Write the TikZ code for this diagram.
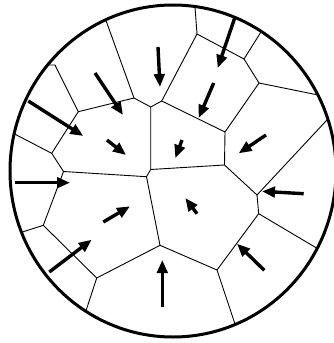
\documentclass[tikz,border=0pt]{standalone}
\usetikzlibrary{arrows.meta}
\tikzset{
  rim/.style={line width=3pt},
  cell/.style={line width=0.9pt},
  flow/.style={line width=3.4pt,-{Triangle[length=13pt,width=10.5pt]}}
}
\begin{document}
\begin{tikzpicture}[x=1pt,y=-1pt]
\useasboundingbox (0,0) rectangle (334,343);
% vertices
\coordinate (A) at (134,98);
\coordinate (B) at (150.7,107);
\coordinate (Q) at (161.7,101);
\coordinate (P) at (197,34);
\coordinate (C) at (244,59);
\coordinate (D) at (259,83);
\coordinate (E) at (225,132);
\coordinate (F) at (224.5,165);
\coordinate (R) at (150.7,169.5);
\coordinate (S) at (146.5,176.7);
\coordinate (M) at (78.3,111.7);
\coordinate (N) at (55,65);
\coordinate (O) at (51.7,153.3);
\coordinate (H) at (63.5,171.5);
\coordinate (T) at (43.3,225.3);
\coordinate (I) at (96.7,278);
\coordinate (G) at (160,245.3);
\coordinate (J) at (217,270);
\coordinate (K) at (258.7,213.7);
\coordinate (L) at (257,195);
% outer ends (beyond the rim, clipped)
\coordinate (c1) at (104,15);
\coordinate (c2) at (40,65);
\coordinate (c3) at (5,129);
\coordinate (c4) at (10,236);
\coordinate (c5) at (83,320);
\coordinate (c6) at (239,336);
\coordinate (c7) at (330,256);
\coordinate (c8) at (340,106);
\coordinate (c9) at (335,98.4);
\coordinate (c10) at (266,24);
\coordinate (c11) at (194.5,0);
\begin{scope}
\clip (173,171) ellipse [x radius=163, y radius=166];
\draw[cell] (c1) -- (A) -- (B) -- (Q) -- (P) -- (c11);
\draw[cell] (P) -- (C) -- (c10);
\draw[cell] (C) -- (D) -- (c9);
\draw[cell] (D) -- (E) -- (Q);
\draw[cell] (E) -- (F) -- (R) -- (B);
\draw[cell] (R) -- (S) -- (H);
\draw[cell] (S) -- (G);
\draw[cell] (F) -- (L) -- (c8);
\draw[cell] (L) -- (K) -- (c7);
\draw[cell] (K) -- (J) -- (c6);
\draw[cell] (J) -- (G) -- (I) -- (c5);
\draw[cell] (I) -- (T) -- (c4);
\draw[cell] (T) -- (H) -- (O) -- (c3);
\draw[cell] (O) -- (M) -- (N) -- (c2);
\draw[cell] (M) -- (A);
\end{scope}
\draw[rim] (173,171) ellipse [x radius=163, y radius=166];
% flow arrows
\coordinate (s1) at (95,73);       \coordinate (t1) at (123,115);
\coordinate (s2) at (28.3,101);    \coordinate (t2) at (83.3,136);
\coordinate (s3) at (107,140);     \coordinate (t3) at (126,155);
\coordinate (s4) at (158,47);      \coordinate (t4) at (160,87);
\coordinate (s5) at (234.7,18);    \coordinate (t5) at (217.7,68);
\coordinate (s6) at (213.7,83);    \coordinate (t6) at (198.7,118);
\coordinate (s7) at (182,140);     \coordinate (t7) at (175.3,158);
\coordinate (s8) at (266,135);     \coordinate (t8) at (238.7,153.3);
\coordinate (s9) at (303.7,193.7); \coordinate (t9) at (262,191.3);
\coordinate (s10) at (264.3,270.3);\coordinate (t10) at (237,243.7);
\coordinate (s11) at (197,213.7);  \coordinate (t11) at (185.3,198);
\coordinate (s12) at (15,182.7);   \coordinate (t12) at (70,182.7);
\coordinate (s13) at (103.3,222);  \coordinate (t13) at (130,206.3);
\coordinate (s14) at (49.3,272);   \coordinate (t14) at (91.7,239.7);
\coordinate (s15) at (162.3,306.7);\coordinate (t15) at (162.3,260);
\foreach \k in {1,...,15} {\draw[flow] (s\k) -- (t\k);}
\end{tikzpicture}
\end{document}
